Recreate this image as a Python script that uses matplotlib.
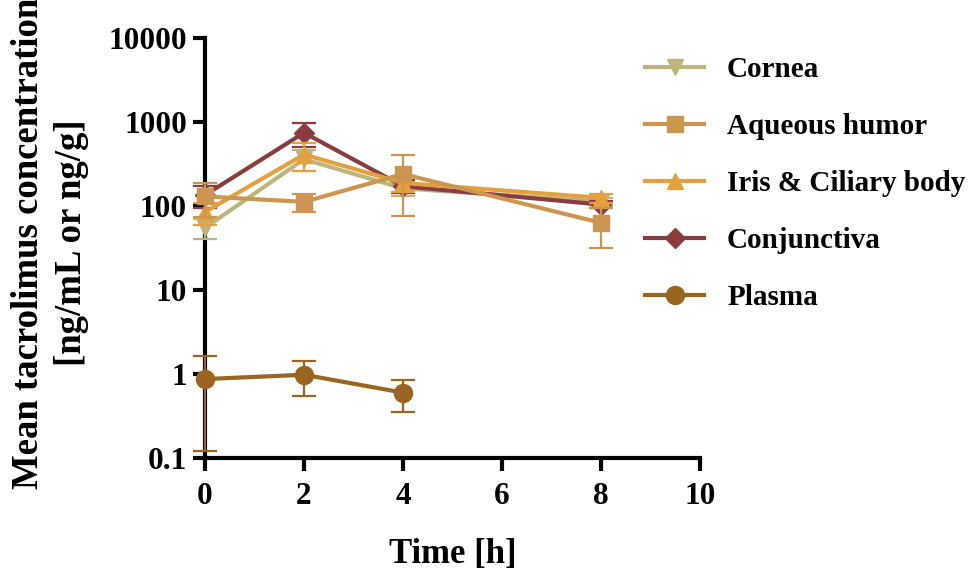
import matplotlib
matplotlib.use("Agg")
import matplotlib.pyplot as plt
import numpy as np
from matplotlib.lines import Line2D
from matplotlib.ticker import FixedLocator, FuncFormatter, NullLocator

plt.rcParams['font.family'] = ['Liberation Serif', 'DejaVu Serif']
plt.rcParams['font.weight'] = 'bold'

# data (mean +/- SD)
time_h = [0, 2, 4, 8]
time_plasma = [0, 2, 4]

cornea = [55, 360, 162, 113]
cornea_sd = [15, 100, 30, 10]

aqueous = [130, 112, 240, 63]
aqueous_sd = [57, 28, 165, 31]

iris = [85, 410, 188, 125]
iris_sd = [25, 150, 40, 15]

conjunctiva = [135, 745, 172, 104]
conjunctiva_sd = [40, 240, 30, 10]

plasma = [0.87, 0.98, 0.60]
plasma_sd = [0.75, 0.43, 0.25]

labels = ['Cornea', 'Aqueous humor', 'Iris & Ciliary body', 'Conjunctiva', 'Plasma']
colors = ['#BDB57C', '#CD9650', '#E4A03F', '#8B3C3E', '#9A6520']
markers = ['v', 's', '^', 'D', 'o']
msizes = [12, 12, 12, 10, 13]

fig = plt.figure(figsize=(9.72, 5.76), dpi=100)
ax = fig.add_axes([205/972, 1-458/576, 495/972, 420/576])

series = [
    (time_h, cornea, cornea_sd),
    (time_h, aqueous, aqueous_sd),
    (time_h, iris, iris_sd),
    (time_h, conjunctiva, conjunctiva_sd),
    (time_plasma, plasma, plasma_sd),
]
zorders = [3, 6, 5, 4, 3]

handles = []
for (x, y, sd), lab, c, m, ms, z in zip(series, labels, colors, markers, msizes, zorders):
    ax.errorbar(x, y, yerr=sd, color=c, marker=m, markersize=ms, lw=3,
                elinewidth=1.6, capsize=8.5, capthick=1.6,
                zorder=z, clip_on=False)
    handles.append(Line2D([], [], color=c, marker=m, markersize=ms, lw=3))

ax.set_yscale('log')
ax.set_ylim(0.1, 10000)
ax.set_xlim(0, 10)
ax.yaxis.set_major_locator(FixedLocator([0.1, 1, 10, 100, 1000, 10000]))
ax.yaxis.set_minor_locator(NullLocator())
ax.yaxis.set_major_formatter(FuncFormatter(lambda v, p: '%g' % v))
ax.set_xticks([0, 2, 4, 6, 8, 10])

for s in ['top', 'right']:
    ax.spines[s].set_visible(False)
for s in ['left', 'bottom']:
    ax.spines[s].set_linewidth(3)
ax.tick_params(width=3, length=9, labelsize=22.5)
ax.tick_params(axis='x', pad=8)
ax.tick_params(axis='y', pad=4)

ax.set_xlabel('Time [h]', fontsize=25, fontweight='bold', labelpad=20)
# long label runs off the top edge, as in the original figure
fig.text(0.051, 1-243/576, 'Mean tacrolimus concentration\n[ng/mL or ng/g]',
         rotation=90, ha='center', va='center', multialignment='center',
         fontsize=26.5, fontweight='bold', linespacing=1.3)

leg = ax.legend(handles, labels, loc='upper left', bbox_to_anchor=(0.664, 0.903),
                bbox_transform=fig.transFigure, frameon=False, fontsize=21,
                handlelength=2.0, handletextpad=0.8, labelspacing=1.03,
                borderpad=0, borderaxespad=0)

fig.savefig('out.png', dpi=100)
